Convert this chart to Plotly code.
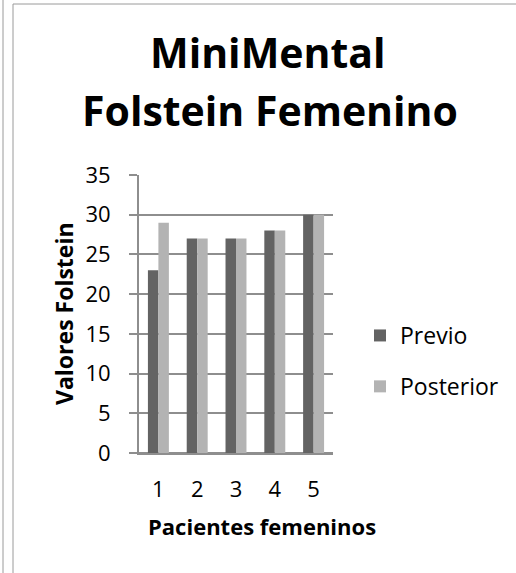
import plotly.graph_objects as go

# Scores per patient, before and after
pacientes = ["1", "2", "3", "4", "5"]
previo = [23, 27, 27, 28, 30]
posterior = [29, 27, 27, 28, 30]
y_ticks = [0, 5, 10, 15, 20, 25, 30, 35]

W, H = 516, 573
L, R, T, B = 139, 183, 175, 120
plot_w = W - L - R
plot_h = H - T - B


def px_x(px):
    return (px - L) / plot_w


def px_y(py):
    return (H - B - py) / plot_h


FONT = "Open Sans"
GRID = "#8e8e8e"

fig = go.Figure()
fig.add_trace(go.Bar(name="Previo", x=pacientes, y=previo,
                     marker=dict(color="#636363", line=dict(width=0)),
                     legendgroup="a"))
fig.add_trace(go.Bar(name="Posterior", x=pacientes, y=posterior,
                     marker=dict(color="#b3b3b3", line=dict(width=0)),
                     legendgroup="b"))

fig.update_layout(
    width=W, height=H,
    margin=dict(l=L, r=R, t=T, b=B, pad=0),
    paper_bgcolor="white", plot_bgcolor="white",
    barmode="group", bargap=0.46, bargroupgap=0,
    font=dict(family=FONT, color="black", size=22),
    showlegend=True,
    legend=dict(x=px_x(360), y=px_y(361), xanchor="left", yanchor="middle",
                font=dict(family=FONT, size=23, color="black"),
                tracegroupgap=18, bgcolor="rgba(0,0,0,0)"),
    xaxis=dict(type="category", showgrid=False, zeroline=False,
               showline=True, linecolor=GRID, linewidth=2,
               ticks="", tickfont=dict(size=22), ticklabelstandoff=16),
    yaxis=dict(range=[0, 35], tickvals=y_ticks, showgrid=True,
               gridcolor=GRID, gridwidth=2, zeroline=True, zerolinecolor=GRID,
               zerolinewidth=2, showline=True, linecolor=GRID, linewidth=2,
               ticks="outside", ticklen=8, tickwidth=2, tickcolor=GRID,
               tickfont=dict(size=22), ticklabelstandoff=14),
)

annotations = [
    dict(text="<b>MiniMental</b>", x=px_x(268), y=px_y(52),
         font=dict(size=41)),
    dict(text="<b>Folstein Femenino</b>", x=px_x(270), y=px_y(110),
         font=dict(size=41)),
    dict(text="<b>Pacientes femeninos</b>", x=px_x(146), y=px_y(526),
         xanchor="left", font=dict(size=22)),
    dict(text="<b>Valores Folstein</b>", x=px_x(64), y=px_y(314),
         textangle=-90, font=dict(size=23)),
]
for a in annotations:
    a.setdefault("xanchor", "center")
    fig.add_annotation(xref="paper", yref="paper", yanchor="middle",
                       showarrow=False, font_family=FONT, **a)

# Page frame: double rule on the left, single rule along the top
frame = dict(color="#9a9a9a", width=1)
fig.add_shape(type="line", xref="paper", yref="paper",
              x0=px_x(3), x1=px_x(3), y0=px_y(0), y1=px_y(H), line=frame)
fig.add_shape(type="line", xref="paper", yref="paper",
              x0=px_x(13), x1=px_x(13), y0=px_y(4), y1=px_y(H), line=frame)
fig.add_shape(type="line", xref="paper", yref="paper",
              x0=px_x(13), x1=px_x(W), y0=px_y(4), y1=px_y(4), line=frame)

fig.write_html("out.html")
